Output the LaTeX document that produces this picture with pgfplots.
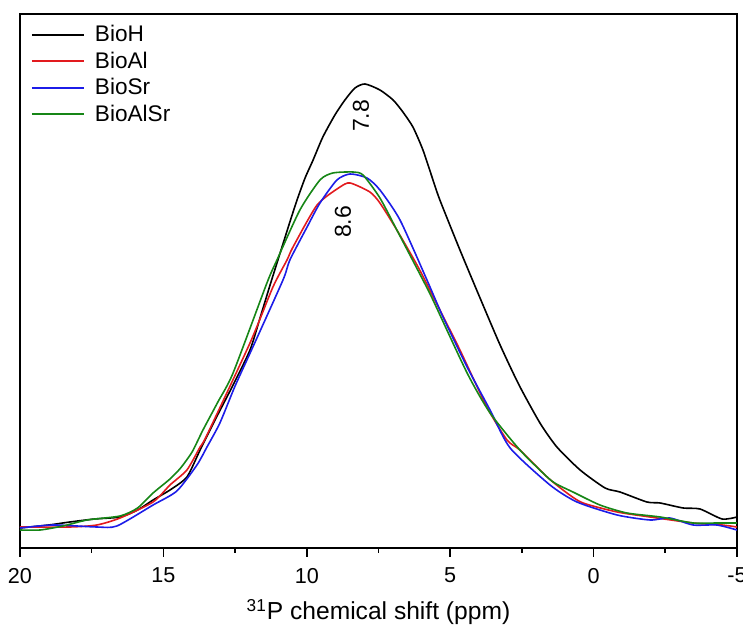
\documentclass[border=0pt]{standalone}
\usepackage{pgfplots}
\pgfplotsset{compat=1.18}
\usepackage{fontspec}
\setmainfont{Liberation Sans}
\definecolor{cred}{RGB}{226,26,30}
\definecolor{cblue}{RGB}{28,28,232}
\definecolor{cgreen}{RGB}{22,134,22}
\begin{document}
\begin{tikzpicture}
\useasboundingbox (-10pt,-41pt) rectangle (361.5pt,274pt);
\begin{axis}[
  at={(0,0)}, anchor=south west,
  scale only axis,
  width=358.5pt, height=267pt,
  x dir=reverse,
  xmin=-5, xmax=20, ymin=0, ymax=534,
  xtick={20,15,10,5,0,-5},
  xticklabels={20,15,10,5,0,-5},
  minor x tick num=1,
  ytick=\empty,
  xtick pos=bottom,
  tick align=outside,
  major tick length=4.5pt,
  minor tick length=2.5pt,
  axis line style={line width=0.9pt},
  every tick/.style={black, line width=0.8pt},
  tick label style={font=\fontsize{10.8}{12}\selectfont},
  xticklabel style={yshift=-2pt},
  xlabel={\textsuperscript{31}P chemical shift (ppm)},
  xlabel style={font=\fontsize{12.3}{14}\selectfont, at={(axis description cs:0.5,-0.12)}, anchor=center},
  legend style={draw=none, fill=none, at={(axis cs:19.7,529)}, anchor=north west,
    font=\fontsize{11.3}{12}\selectfont, row sep=-0.4pt, inner sep=1pt},
  legend cell align=left,
  legend image code/.code={\draw[#1, line width=1pt] (0pt,0.25pt) -- (26pt,0.25pt);},
]
\addplot[black, line width=0.8pt, smooth, tension=0.4] coordinates {
(20.00,20) (19.00,23) (18.26,26) (17.40,29) (16.51,31) (15.90,38) (15.36,48) (14.77,58) (14.18,71)
(13.72,98) (13.20,128) (12.57,163) (11.98,198) (11.63,230) (11.28,263) (10.93,295) (10.59,326)
(10.34,348) (10.06,370) (9.78,388) (9.44,411) (9.02,433) (8.67,448) (8.32,460) (7.97,464) (7.45,458)
(6.99,448) (6.65,436) (6.30,421) (5.95,398) (5.60,368) (5.36,348) (4.66,298) (3.93,248) (3.26,203)
(2.60,163) (1.87,125) (1.28,101) (0.47,78) (-0.40,60) (-0.92,56)
(-1.86,46) (-2.32,45) (-3.12,40) (-3.71,39) (-4.48,29) (-5.00,31)
};
\addlegendentry{\hspace{3pt}BioH}
\addplot[cred, line width=0.8pt, smooth, tension=0.4] coordinates {
(20.00,21) (18.26,21) (17.32,23) (16.51,30) (15.36,46) (14.77,63) (14.18,78) (13.72,101) (13.48,113)
(11.98,205) (11.18,261) (10.69,288) (10.48,301) (9.64,343) (8.84,361) (8.49,365) (7.80,356) (7.45,345)
(6.86,318) (6.10,280) (5.36,238) (4.66,198) (3.72,141) (3.02,108) (2.57,98) (1.62,71) (0.93,55)
(0.37,45) (-0.82,36) (-1.97,31) (-3.47,25) (-4.48,23) (-5.00,21)
};
\addlegendentry{\hspace{3pt}BioAl}
\addplot[cblue, line width=0.8pt, smooth, tension=0.4] coordinates {
(20.00,20) (18.85,23) (17.32,21) (16.62,22) (15.36,43) (14.53,57) (13.83,83) (13.48,101) (13.03,125)
(12.50,162) (11.88,201) (10.83,268) (10.59,288) (9.99,321) (9.54,345) (8.95,368) (8.49,374) (7.90,370) (7.45,358)
(6.75,328) (5.81,268) (5.25,231) (4.41,181) (3.61,138) (2.91,100) (1.52,63) (0.58,46) (-0.82,33)
(-1.97,28) (-2.66,30) (-3.47,23) (-4.30,23) (-5.00,18)
};
\addlegendentry{\hspace{3pt}BioSr}
\addplot[cgreen, line width=0.8pt, smooth, tension=0.4] coordinates {
(20.00,18) (19.30,18) (18.50,22) (17.66,28) (16.51,32) (15.90,40) (15.36,55) (14.77,69) (14.40,80)
(14.00,96) (13.62,118) (13.10,146) (12.57,175) (11.39,265) (11.04,288) (10.24,338) (9.54,368) (9.09,375) (8.39,376)
(8.04,373) (7.45,350) (6.86,318) (5.95,268) (5.60,248) (4.41,175) (3.61,135) (2.57,98) (1.62,71)
(1.30,64) (0.72,56) (-0.22,43) (-1.16,35) (-2.32,31) (-3.47,25) (-4.30,25) (-5.00,25)
};
\addlegendentry{\hspace{3pt}BioAlSr}
\node[rotate=90, font=\fontsize{11.5}{13}\selectfont] at (axis cs:8.11,432) {7.8};
\node[rotate=90, font=\fontsize{11.5}{13}\selectfont] at (axis cs:8.74,326) {8.6};
\end{axis}
\end{tikzpicture}
\end{document}
